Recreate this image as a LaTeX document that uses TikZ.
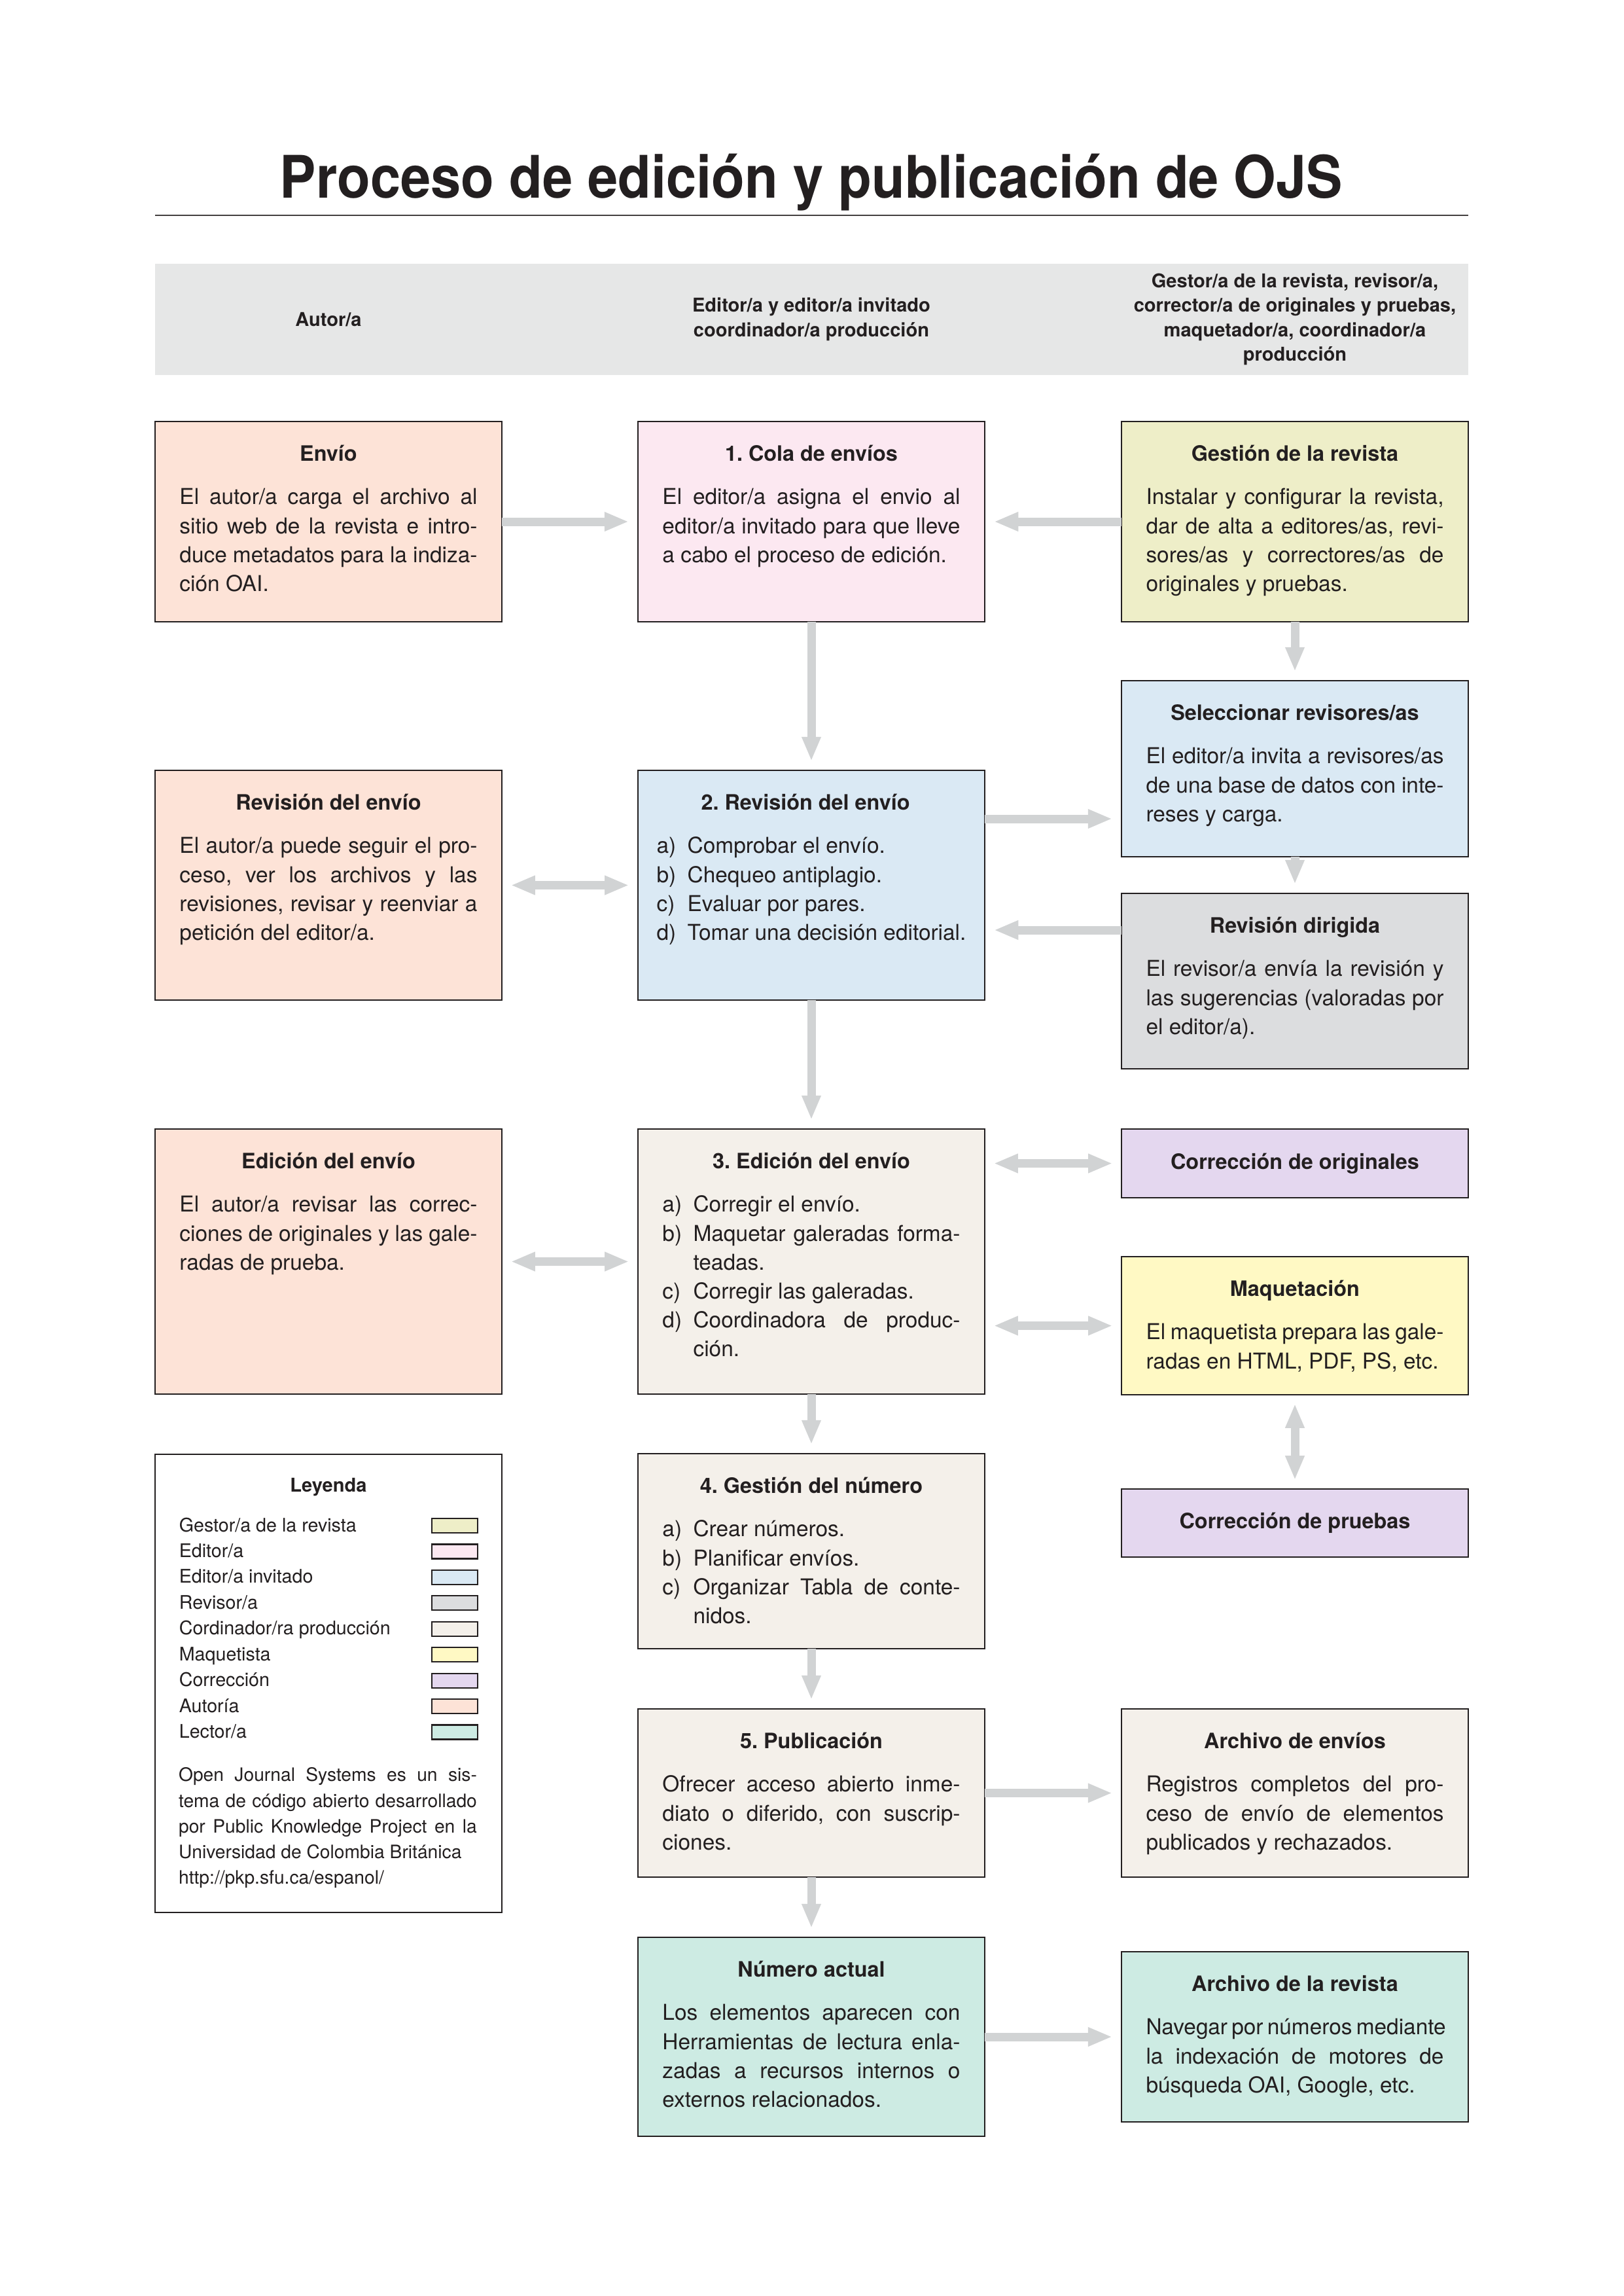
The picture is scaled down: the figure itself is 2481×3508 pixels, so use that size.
\documentclass[tikz,border=0pt]{standalone}
\usepackage{fontspec}
\setmainfont{TeX Gyre Heros}
\usetikzlibrary{arrows.meta,fit}
\definecolor{autor}{HTML}{FDE3D7}
\definecolor{editor}{HTML}{FCE8F1}
\definecolor{invit}{HTML}{DAE9F4}
\definecolor{gestor}{HTML}{EEEEC8}
\definecolor{revisor}{HTML}{DCDDDF}
\definecolor{coord}{HTML}{F4F0EA}
\definecolor{maquet}{HTML}{FFF9C4}
\definecolor{correc}{HTML}{E4D7EF}
\definecolor{lector}{HTML}{CDEBE3}
\definecolor{hdr}{HTML}{E6E7E7}
\definecolor{arrowc}{HTML}{D1D3D4}
\definecolor{ink}{HTML}{231F20}
\newcommand\Jl[1]{\hbox to\hsize{#1}}
\newcommand\Nl[1]{\hbox{#1}}
\newcommand\Tl[1]{\hbox to\hsize{\hss\fontsize{7.8}{10}\selectfont\bfseries\rule{0pt}{8bp}#1\hss}\vskip5.4bp}
\newcommand\Ij[2]{\hbox to\hsize{\hbox to 11.3bp{#1\hss}#2}}
\newcommand\In[2]{\hbox{\hbox to 11.3bp{#1\hss}#2}}
\newcommand\Ic[1]{\hbox{\hskip11.3bp #1}}
\newcommand\Bx[1]{\vbox{\hsize=109.2bp\baselineskip=10.6bp\frenchspacing #1}}
\newcommand\LegRow[3]{%
  \pgfmathsetmacro\yc{2331+39.43*#1}%
  \node[legt] (leg-l#1) at (273,\yc+9) {#2};
  \node[sw, fill=#3, fit={(660,\yc-11) (730,\yc+11)}] (leg-s#1) {};}
\begin{document}
\begin{tikzpicture}[x=0.24bp,y=-0.24bp,
  box/.style={draw=ink, line width=0.6bp, inner sep=0pt, outer sep=0pt},
  txt/.style={anchor=north, inner sep=0pt, text=ink, font=\fontsize{8.05}{10.6}\selectfont},
  ttl/.style={inner sep=0pt, text=ink, font=\fontsize{7.8}{10}\selectfont\bfseries},
  hdrt/.style={inner sep=0pt, text=ink, align=center, font=\fontsize{7}{9}\selectfont\bfseries},
  legt/.style={anchor=base west, inner sep=0pt, text=ink, font=\fontsize{6.9}{9.4}\selectfont},
  sw/.style={draw=ink, line width=0.5bp, inner sep=0pt},
  fat/.style={draw=arrowc, line width=3.12bp, -{Triangle[width=6.5bp,length=8.9bp]}, shorten >=3.4bp},
  fatb/.style={draw=arrowc, line width=3.12bp, {Triangle[width=6.5bp,length=8.9bp]}-{Triangle[width=6.5bp,length=8.9bp]}, shorten >=3.3bp, shorten <=3.3bp}
]
\useasboundingbox (0,0) rectangle (2481,3508);
\fill[white] (0,0) rectangle (2481,3508);

% title
\node[anchor=base, inner sep=0pt, text=ink, font=\fontsize{20}{24}\selectfont\bfseries] (title) at (1240,302) {\scalebox{1}[1.08]{Proceso de edición y publicación de OJS}};
\draw[line width=0.7bp, draw=ink!85] (237,329) -- (2244,329);

% header band
\node[fill=hdr, inner sep=0pt, fit={(237,403) (2244,573)}] (hdr) {};
\node[hdrt] (h1) at (502,488) {Autor/a};
\node[hdrt] (h2) at (1240,488) {Editor/a y editor/a invitado\\coordinador/a producción};
\node[hdrt] (h3) at (1979,488) {Gestor/a de la revista, revisor/a,\\corrector/a de originales y pruebas,\\maquetador/a, coordinador/a\\producción};

% boxes
\node[box, fill=autor, fit={(237,644) (767,950)}] (envio) {};
\node[box, fill=editor, fit={(975,644) (1505,950)}] (cola) {};
\node[box, fill=gestor, fit={(1714,644) (2244,950)}] (gestion) {};
\node[box, fill=invit, fit={(1714,1040) (2244,1309)}] (selrev) {};
\node[box, fill=autor, fit={(237,1177) (767,1528)}] (revenv) {};
\node[box, fill=invit, fit={(975,1177) (1505,1528)}] (rev2) {};
\node[box, fill=revisor, fit={(1714,1365) (2244,1633)}] (revdir) {};
\node[box, fill=autor, fit={(237,1725) (767,2130)}] (edenv) {};
\node[box, fill=coord, fit={(975,1725) (1505,2130)}] (ed3) {};
\node[box, fill=correc, fit={(1714,1725) (2244,1830)}] (corrorig) {};
\node[box, fill=maquet, fit={(1714,1920) (2244,2131)}] (maq) {};
\node[box, fill=correc, fit={(1714,2275) (2244,2379)}] (corrpr) {};
\node[box, fill=white, fit={(237,2222) (767,2922)}] (leg) {};
\node[box, fill=coord, fit={(975,2221) (1505,2519)}] (gest4) {};
\node[box, fill=coord, fit={(975,2611) (1505,2868)}] (pub5) {};
\node[box, fill=coord, fit={(1714,2611) (2244,2868)}] (arcenv) {};
\node[box, fill=lector, fit={(975,2960) (1505,3264)}] (numact) {};
\node[box, fill=lector, fit={(1714,2982) (2244,3242)}] (arcrev) {};

% box texts
\node[txt] (envio-t) at ([yshift=-6.26bp]envio.north) {\Bx{\Tl{Envío}%
  \Jl{El autor/a carga el archivo al}\Jl{sitio web de la revista e intro-}%
  \Jl{duce metadatos para la indiza-}\Nl{ción OAI.}}};
\node[txt] (cola-t) at ([yshift=-6.26bp]cola.north) {\Bx{\Tl{1. Cola de envíos}%
  \Jl{El editor/a asigna el envio al}\Jl{editor/a invitado para que lleve}%
  \Nl{a cabo el proceso de edición.}}};
\node[txt] (gestion-t) at ([yshift=-6.26bp]gestion.north) {\Bx{\Tl{Gestión de la revista}%
  \Jl{Instalar y configurar la revista,}\Jl{dar de alta a editores/as, revi-}%
  \Jl{sores/as y correctores/as de}\Nl{originales y pruebas.}}};
\node[txt] (selrev-t) at ([yshift=-6.26bp]selrev.north) {\Bx{\Tl{Seleccionar revisores/as}%
  \Jl{El editor/a invita a revisores/as}\Jl{de una base de datos con inte-}%
  \Nl{reses y carga.}}};
\node[txt] (revenv-t) at ([yshift=-6.26bp]revenv.north) {\Bx{\Tl{Revisión del envío}%
  \Jl{El autor/a puede seguir el pro-}\Jl{ceso, ver los archivos y las}%
  \Jl{revisiones, revisar y reenviar a}\Nl{petición del editor/a.}}};
\node[txt] (rev2-t) at ([yshift=-6.26bp]rev2.north) {\Bx{\Tl{2. Revisión del envío}%
  \In{a)}{Comprobar el envío.}\In{b)}{Chequeo antiplagio.}%
  \In{c)}{Evaluar por pares.}\In{d)}{Tomar una decisión editorial.}}};
\node[txt] (revdir-t) at ([yshift=-6.26bp]revdir.north) {\Bx{\Tl{Revisión dirigida}%
  \Jl{El revisor/a envía la revisión y}\Jl{las sugerencias (valoradas por}%
  \Nl{el editor/a).}}};
\node[txt] (edenv-t) at ([yshift=-6.26bp]edenv.north) {\Bx{\Tl{Edición del envío}%
  \Jl{El autor/a revisar las correc-}\Jl{ciones de originales y las gale-}%
  \Nl{radas de prueba.}}};
\node[txt] (ed3-t) at ([yshift=-6.26bp]ed3.north) {\Bx{\Tl{3. Edición del envío}%
  \In{a)}{Corregir el envío.}\Ij{b)}{Maquetar galeradas forma-}\Ic{teadas.}%
  \In{c)}{Corregir las galeradas.}\Ij{d)}{Coordinadora de produc-}\Ic{ción.}}};
\node[ttl] (corrorig-t) at (corrorig.center) {Corrección de originales};
\node[txt] (maq-t) at ([yshift=-6.26bp]maq.north) {\Bx{\Tl{Maquetación}%
  \Jl{El maquetista prepara las gale-}\Nl{radas en HTML, PDF, PS, etc.}}};
\node[ttl] (corrpr-t) at (corrpr.center) {Corrección de pruebas};
\node[txt] (gest4-t) at ([yshift=-6.26bp]gest4.north) {\Bx{\Tl{4. Gestión del número}%
  \In{a)}{Crear números.}\In{b)}{Planificar envíos.}%
  \Ij{c)}{Organizar Tabla de conte-}\Ic{nidos.}}};
\node[txt] (pub5-t) at ([yshift=-6.26bp]pub5.north) {\Bx{\Tl{5. Publicación}%
  \Jl{Ofrecer acceso abierto inme-}\Jl{diato o diferido, con suscrip-}%
  \Nl{ciones.}}};
\node[txt] (arcenv-t) at ([yshift=-6.26bp]arcenv.north) {\Bx{\Tl{Archivo de envíos}%
  \Jl{Registros completos del pro-}\Jl{ceso de envío de elementos}%
  \Nl{publicados y rechazados.}}};
\node[txt] (numact-t) at ([yshift=-6.26bp]numact.north) {\Bx{\Tl{Número actual}%
  \Jl{Los elementos aparecen con}\Jl{Herramientas de lectura enla-}%
  \Jl{zadas a recursos internos o}\Nl{externos relacionados.}}};
\node[txt] (arcrev-t) at ([yshift=-6.26bp]arcrev.north) {\Bx{\Tl{Archivo de la revista}%
  \Jl{Navegar por números mediante}\Jl{la indexación de motores de}%
  \Nl{búsqueda OAI, Google, etc.}}};

% legend
\node[anchor=base, inner sep=0pt, text=ink, font=\fontsize{7}{9}\selectfont\bfseries] (leg-t) at (502,2279) {Leyenda};
\LegRow{0}{Gestor/a de la revista}{gestor}
\LegRow{1}{Editor/a}{editor}
\LegRow{2}{Editor/a invitado}{invit}
\LegRow{3}{Revisor/a}{revisor}
\LegRow{4}{Cordinador/ra producción}{coord}
\LegRow{5}{Maquetista}{maquet}
\LegRow{6}{Corrección}{correc}
\LegRow{7}{Autoría}{autor}
\LegRow{8}{Lector/a}{lector}
\node[anchor=north, inner sep=0pt, text=ink, font=\fontsize{6.8}{9.4}\selectfont] (leg-p) at (501,2696) {\vbox{\hsize=109.4bp\baselineskip=9.4bp\frenchspacing
  \hbox to\hsize{\rule{0pt}{6bp}Open Journal Systems es un sis-}%
  \hbox to\hsize{tema de código abierto desarrollado}%
  \hbox to\hsize{por Public Knowledge Project en la}%
  \hbox{Universidad de Colombia Británica}%
  \hbox{http://pkp.sfu.ca/espanol/}}};

% connectors
\coordinate (ya) at (0,1251);
\coordinate (yb) at (0,1421);
\draw[fat] (envio.east) -- (cola.west);
\draw[fat] (gestion.west) -- (cola.east);
\draw[fat] (cola.south) -- (rev2.north);
\draw[fat] (gestion.south) -- (selrev.north);
\draw[fat] (rev2.east |- ya) -- (selrev.west |- ya);
\draw[fat] (selrev.south) -- (revdir.north);
\draw[fat] (revdir.west |- yb) -- (rev2.east |- yb);
\draw[fatb] (revenv.east) -- (rev2.west);
\draw[fat] (rev2.south) -- (ed3.north);
\draw[fatb] (edenv.east) -- (ed3.west);
\draw[fatb] (ed3.east |- corrorig.west) -- (corrorig.west);
\draw[fatb] (ed3.east |- maq.west) -- (maq.west);
\draw[fatb] (maq.south) -- (corrpr.north);
\draw[fat] (ed3.south) -- (gest4.north);
\draw[fat] (gest4.south) -- (pub5.north);
\draw[fat] (pub5.south) -- (numact.north);
\draw[fat] (pub5.east) -- (arcenv.west);
\draw[fat] (numact.east) -- (arcrev.west);
\end{tikzpicture}
\end{document}
